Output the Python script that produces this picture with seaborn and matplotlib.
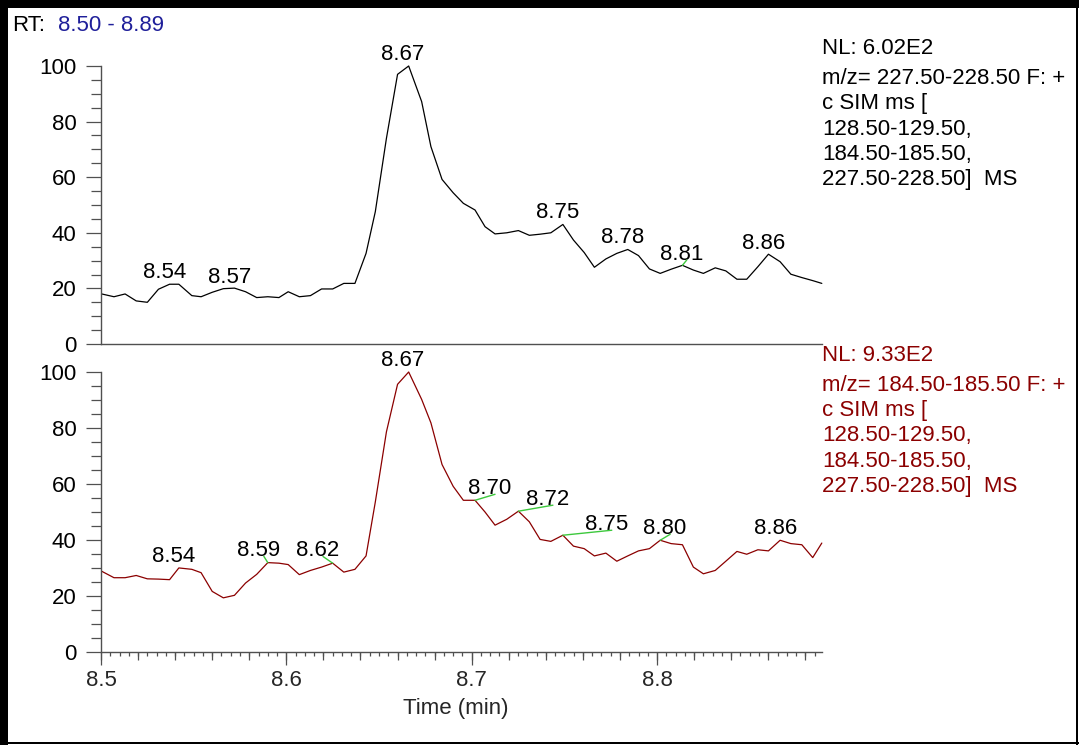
import numpy as np
import pandas as pd
import matplotlib
matplotlib.use("Agg")
import matplotlib.pyplot as plt
import seaborn as sns
from matplotlib.ticker import MultipleLocator, FixedLocator, FixedFormatter
from matplotlib.patches import Rectangle

# ---------------- data ----------------
time_min = [8.5004, 8.5070, 8.5130, 8.5190, 8.5250, 8.5310, 8.5370, 8.5420, 8.5490, 8.5540,
            8.5600, 8.5660, 8.5720, 8.5780, 8.5840, 8.5900, 8.5960, 8.6010, 8.6070, 8.6130,
            8.6190, 8.6250, 8.6310, 8.6370, 8.6430, 8.6480, 8.6540, 8.6600, 8.6660, 8.6730,
            8.6780, 8.6840, 8.6900, 8.6955, 8.7018, 8.7072, 8.7126, 8.7189, 8.7252, 8.7311,
            8.7369, 8.7427, 8.7492, 8.7549, 8.7607, 8.7662, 8.7724, 8.7783, 8.7842, 8.7900,
            8.7959, 8.8017, 8.8076, 8.8137, 8.8196, 8.8250, 8.8314, 8.8371, 8.8431, 8.8484,
            8.8544, 8.8601, 8.8664, 8.8722, 8.8781, 8.8840, 8.8889]

top_intensity = [18.0, 17.0, 18.0, 15.5, 15.0, 19.7, 21.5, 21.5, 17.4, 17.0,
                 18.6, 19.9, 20.1, 18.8, 16.7, 17.0, 16.7, 18.8, 17.0, 17.4,
                 19.8, 19.8, 21.8, 21.8, 32.6, 47.6, 74.0, 97.0, 100.0, 87.2,
                 71.0, 59.2, 54.4, 50.6, 48.2, 42.2, 39.6, 40.0, 40.8, 39.1,
                 39.5, 40.0, 43.0, 37.4, 32.9, 27.6, 30.6, 32.6, 34.0, 31.8,
                 27.0, 25.4, 26.9, 28.3, 26.6, 25.4, 27.4, 26.3, 23.3, 23.3,
                 27.8, 32.3, 29.6, 25.1, 23.9, 22.8, 21.8]

bottom_intensity = [28.7, 26.4, 26.4, 27.2, 26.0, 25.9, 25.7, 29.9, 29.4, 28.2,
                    21.5, 19.2, 20.1, 24.5, 27.6, 31.8, 31.6, 31.1, 27.5, 29.0,
                    30.2, 31.6, 28.4, 29.4, 34.2, 53.5, 78.6, 95.6, 100.0, 90.2,
                    81.8, 66.9, 59.1, 54.1, 54.1, 49.9, 45.2, 47.3, 50.2, 46.4,
                    40.1, 39.4, 41.6, 37.7, 36.8, 34.2, 35.2, 32.3, 34.2, 36.0,
                    36.8, 39.8, 38.6, 38.2, 30.2, 27.8, 29.0, 32.3, 35.8, 34.8,
                    36.4, 36.0, 39.8, 38.6, 38.2, 33.6, 38.8]

top_peak_labels = ["8.54", "8.57", "8.67", "8.75", "8.78", "8.81", "8.86"]
top_peak_index = [6, 12, 28, 42, 48, 53, 61]
bottom_peak_labels = ["8.54", "8.59", "8.62", "8.67", "8.70", "8.72", "8.75", "8.80", "8.86"]
bottom_peak_index = [7, 15, 21, 28, 34, 38, 42, 51, 62]

y_ticks = [0, 20, 40, 60, 80, 100]
x_ticks = [8.5, 8.6, 8.7, 8.8]
x_tick_labels = ["8.5", "8.6", "8.7", "8.8"]
x_range = (8.50, 8.889)

rt_prefix = "RT:"
rt_range = "8.50 - 8.89"
x_label = "Time (min)"
top_info = ["NL: 6.02E2", "m/z= 227.50-228.50 F: +", "c SIM ms [",
            "128.50-129.50,", "184.50-185.50,", "227.50-228.50]  MS"]
bottom_info = ["NL: 9.33E2", "m/z= 184.50-185.50 F: +", "c SIM ms [",
               "128.50-129.50,", "184.50-185.50,", "227.50-228.50]  MS"]

# ---------------- layout / style ----------------
W, H = 1079, 745
top_label_offsets = [(-5, 6), (-5, 5.5), (-6, 6.5), (-5, 6), (-5, 6), (-1, 5.3), (-5, 5)]
top_leader = [False, False, False, False, False, True, False]
bottom_label_offsets = [(-5, 6), (-9.3, 6.3), (-15, 6.7), (-6, 5.6), (14.7, 6),
                        (29.2, 6), (43.6, 5), (4.7, 6), (-4.5, 6)]
bottom_leader = [False, True, True, False, True, True, True, True, False]

BLACK = "black"
RED = "#8B0000"
BLUE = "#1F1F9A"
GREEN = "#3CC83C"
AXC = "#505050"
FS = 16

sns.set_style("ticks")
plt.rcParams["font.family"] = ["Liberation Sans", "DejaVu Sans"]
plt.rcParams["font.size"] = FS

fig = plt.figure(figsize=(W / 100, H / 100), dpi=100)
fig.patch.set_facecolor("white")


def fx(px):
    return px / W


def fy(py):
    return 1 - py / H


ax_left, ax_right = 101, 822
ax_top = fig.add_axes([fx(ax_left), fy(344), (ax_right - ax_left) / W, (344 - 66) / H])
ax_bot = fig.add_axes([fx(ax_left), fy(651.5), (ax_right - ax_left) / W, (651.5 - 372) / H])

df = pd.DataFrame({"time": time_min, "top": top_intensity, "bottom": bottom_intensity})

sns.lineplot(data=df, x="time", y="top", ax=ax_top, color=BLACK, lw=0.9, clip_on=False)
sns.lineplot(data=df, x="time", y="bottom", ax=ax_bot, color=RED, lw=0.9, clip_on=False)

for ax in (ax_top, ax_bot):
    ax.set_xlim(*x_range)
    ax.set_ylim(0, 100)
    ax.set_facecolor("white")
    ax.set_xlabel("")
    ax.set_ylabel("")
    for s in ("top", "right"):
        ax.spines[s].set_visible(False)
    for s in ("left", "bottom"):
        ax.spines[s].set_color(AXC)
        ax.spines[s].set_linewidth(1.0)
    ax.yaxis.set_major_locator(FixedLocator(y_ticks))
    ax.yaxis.set_minor_locator(MultipleLocator(5))
    ax.tick_params(axis="y", which="major", direction="out", length=10.8, width=0.9,
                   color=AXC, pad=7, labelsize=FS, labelcolor="black")
    ax.tick_params(axis="y", which="minor", direction="out", length=7.2, width=0.9, color=AXC)

# top panel: no x ticks
ax_top.tick_params(axis="x", which="both", bottom=False, labelbottom=False)

# bottom panel x ticks
ax_bot.xaxis.set_major_locator(FixedLocator(x_ticks))
ax_bot.xaxis.set_major_formatter(FixedFormatter(x_tick_labels))
ax_bot.xaxis.set_minor_locator(MultipleLocator(0.005))
ax_bot.tick_params(axis="x", which="major", direction="out", length=9.4, width=0.9,
                   color=AXC, pad=4, labelsize=FS)
ax_bot.tick_params(axis="x", which="minor", direction="out", length=2.9, width=0.9, color=AXC)
sec = ax_bot.secondary_xaxis("bottom")
sec.xaxis.set_major_locator(MultipleLocator(0.02))
sec.tick_params(axis="x", which="major", direction="out", length=5.8, width=0.9,
                color=AXC, labelbottom=False)
sec.tick_params(axis="x", which="minor", bottom=False)
sec.spines["bottom"].set_visible(False)

ax_bot.set_xlabel(x_label, fontsize=FS)
ax_bot.xaxis.set_label_coords((455.5 - ax_left) / (ax_right - ax_left), -0.165)


# peak labels
def annotate_peaks(ax, labels, idxs, offsets, leaders, values):
    for lab, i, (dx, dy), lead in zip(labels, idxs, offsets, leaders):
        x, y = time_min[i], values[i]
        ax.annotate(lab, xy=(x, y), xytext=(dx, dy), textcoords="offset pixels",
                    ha="center", va="baseline", fontsize=FS, color="black",
                    annotation_clip=False)
        if lead:
            ax.annotate("", xy=(x, y), xytext=(dx + 5.3, dy), textcoords="offset pixels",
                        annotation_clip=False,
                        arrowprops=dict(arrowstyle="-", color=GREEN, lw=1.0,
                                        shrinkA=0, shrinkB=0))


annotate_peaks(ax_top, top_peak_labels, top_peak_index, top_label_offsets, top_leader, top_intensity)
annotate_peaks(ax_bot, bottom_peak_labels, bottom_peak_index, bottom_label_offsets, bottom_leader,
               bottom_intensity)

# info text blocks
top_baselines = [54, 84, 109, 134.5, 160, 185]
bottom_baselines = [b + 307 for b in top_baselines]
for txt, b in zip(top_info, top_baselines):
    fig.text(fx(822), fy(b), txt, ha="left", va="baseline", fontsize=FS, color="black")
for txt, b in zip(bottom_info, bottom_baselines):
    fig.text(fx(822), fy(b), txt, ha="left", va="baseline", fontsize=FS, color=RED)

# RT header
fig.text(fx(12.5), fy(30.7), rt_prefix, ha="left", va="baseline", fontsize=FS, color="black")
fig.text(fx(58), fy(30.7), rt_range, ha="left", va="baseline", fontsize=FS, color=BLUE)

# frame
fig.add_artist(Rectangle((0, fy(7.5)), 1, 7.5 / H, transform=fig.transFigure,
                         facecolor="black", edgecolor="none"))
fig.add_artist(Rectangle((0, 0), 7.5 / W, 1, transform=fig.transFigure,
                         facecolor="black", edgecolor="none"))
fig.add_artist(Rectangle((fx(1076), 0), 2 / W, 1, transform=fig.transFigure,
                         facecolor="black", edgecolor="none"))
fig.add_artist(Rectangle((0, fy(744)), 1, 2 / H, transform=fig.transFigure,
                         facecolor="black", edgecolor="none"))

fig.savefig("out.png", dpi=100)
